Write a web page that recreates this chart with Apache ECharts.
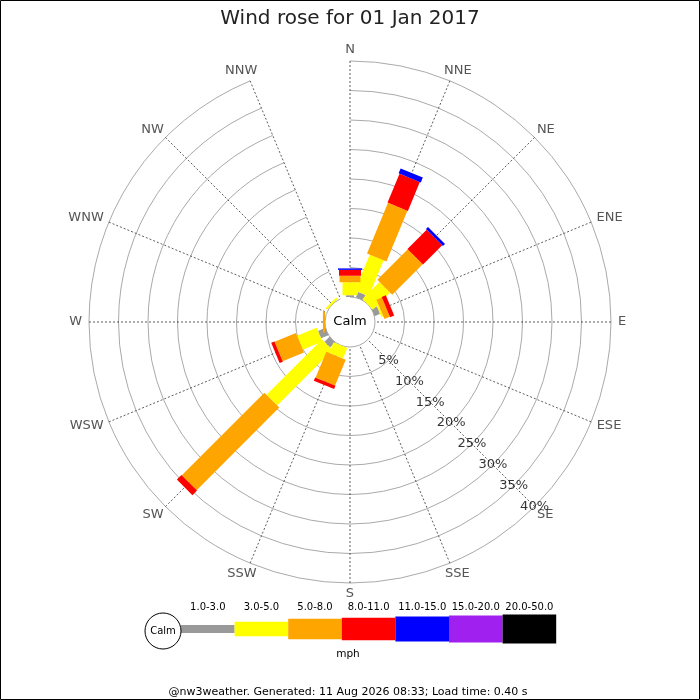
<!DOCTYPE html>
<html>
<head>
<meta charset="utf-8">
<script src="https://cdn.jsdelivr.net/npm/echarts@6/dist/echarts.min.js"></script>
<style>
html,body{margin:0;padding:0;background:#fff;}
#chart{width:700px;height:700px;}
</style>
</head>
<body>
<div id="chart"></div>
<script>
// ---- Data ----
const directions = ['N','NNE','NE','ENE','E','ESE','SE','SSE','S','SSW','SW','WSW','W','WNW','NW','NNW'];
const speedBins = ['1.0-3.0','3.0-5.0','5.0-8.0','8.0-11.0','11.0-15.0','15.0-20.0','20.0-50.0'];
const speedColors = ['#999999','#ffff00','#ffa500','#ff0000','#0000ff','#a020f0','#000000'];
const ringTicks = [5,10,15,20,25,30,35,40];
// percent frequency per direction (N ... NNW) for each speed bin
const spd1to3   = [0.3, 1.0, 0.0, 1.0, 0, 0, 0, 0, 0, 0.0, 1.2, 1.35, 0.0, 0, 0.0, 0];
const spd3to5   = [2.2, 6.6, 4.1, 0.35, 0, 0, 0, 0, 0, 1.95, 13.3, 3.6, 0.0, 0, 0.35, 0];
const spd5to8   = [1.1, 9.3, 7.3, 1.0, 0, 0, 0, 0, 0, 4.75, 19.8, 3.9, 0.35, 0, 0.0, 0];
const spd8to11  = [1.0, 5.3, 4.6, 0.75, 0, 0, 0, 0, 0, 0.6, 1.1, 0.6, 0.0, 0, 0.0, 0];
const spd11to15 = [0.25, 0.9, 0.5, 0, 0, 0, 0, 0, 0, 0, 0, 0, 0, 0, 0, 0];
const spd15to20 = [0, 0, 0, 0, 0, 0, 0, 0, 0, 0, 0, 0, 0, 0, 0, 0];
const spd20to50 = [0, 0, 0, 0, 0, 0, 0, 0, 0, 0, 0, 0, 0, 0, 0, 0];
const speedSeries = [spd1to3, spd3to5, spd5to8, spd8to11, spd11to15, spd15to20, spd20to50];

// ---- Styles ----
const FONT = 'DejaVu Sans';
const barWidths = [8, 15, 21, 22, 24, 27, 29];
const legendHeights = [8, 14.6, 20.7, 22.7, 25, 27, 29];
const DIR_FONT = 13, DIR_GAP = 7, DIR_VFACTOR = 0.3;

const measureCtx = document.createElement('canvas').getContext('2d');
measureCtx.font = DIR_FONT + 'px "DejaVu Sans"';

// build stacked segments
const cum = directions.map(() => 0);
const series = speedSeries.map((vals, k) => {
  const data = vals.map((v, i) => {
    const start = cum[i];
    cum[i] += v;
    return [i, start, cum[i]];
  });
  const w = barWidths[k], color = speedColors[k];
  return {
    type: 'custom',
    name: speedBins[k],
    coordinateSystem: 'polar',
    encode: { angle: 0, radius: [1, 2] },
    silent: true,
    data: data,
    renderItem: function (params, api) {
      const i = api.value(0), a = api.value(1), b = api.value(2);
      if (!(b > a)) return;
      const p0 = api.coord([a, i]);
      const p1 = api.coord([b, i]);
      const dx = p1[0] - p0[0], dy = p1[1] - p0[1];
      const L = Math.hypot(dx, dy) || 1;
      const nx = -dy / L * w / 2, ny = dx / L * w / 2;
      return {
        type: 'polygon',
        shape: { points: [[p0[0] + nx, p0[1] + ny], [p1[0] + nx, p1[1] + ny], [p1[0] - nx, p1[1] - ny], [p0[0] - nx, p0[1] - ny]] },
        style: { fill: color }
      };
    }
  };
});

// direction labels just outside the outer ring
series.push({
  type: 'custom',
  coordinateSystem: 'polar',
  silent: true,
  encode: { angle: 0, radius: 1 },
  data: directions.map((d, i) => [i, ringTicks[ringTicks.length - 1]]),
  renderItem: function (params, api) {
    const i = api.value(0);
    const p0 = api.coord([0, i]);
    const p1 = api.coord([api.value(1), i]);
    const dx = p1[0] - p0[0], dy = p1[1] - p0[1];
    const L = Math.hypot(dx, dy) || 1;
    const ux = dx / L, uy = dy / L;
    const txt = directions[i];
    const w = measureCtx.measureText(txt).width;
    return {
      type: 'text',
      x: p1[0] + ux * DIR_GAP + ux * w / 2,
      y: p1[1] + uy * DIR_GAP + uy * DIR_FONT * DIR_VFACTOR,
      style: { text: txt, fontSize: DIR_FONT, fontFamily: FONT, fill: '#555', align: 'center', verticalAlign: 'middle' }
    };
  }
});

// radial tick labels along SE spoke
series.push({
  type: 'scatter',
  coordinateSystem: 'polar',
  symbolSize: 0,
  silent: true,
  data: ringTicks.map(t => [t, directions.indexOf('SE')]),
  label: {
    show: true, position: 'inside',
    formatter: p => p.value[0] + '%',
    color: '#000', fontSize: 13, fontFamily: FONT
  },
  z: 5
});

// legend graphics
const legendX0 = 181, legendW = 53.6, legendCY = 629;
const graphics = [
  { type: 'rect', shape: { x: 0.5, y: 0.5, width: 699, height: 699 }, style: { fill: 'none', stroke: '#000', lineWidth: 1 }, silent: true },
  { type: 'text', x: 350, y: 322, style: { text: 'Calm', fontSize: 13, fontFamily: FONT, fill: '#000', align: 'center', verticalAlign: 'middle' }, z: 10 },
  { type: 'circle', shape: { cx: 163, cy: 631, r: 18 }, style: { fill: '#fff', stroke: '#000', lineWidth: 1 }, z: 10 },
  { type: 'text', x: 163, y: 631, style: { text: 'Calm', fontSize: 10, fontFamily: FONT, fill: '#000', align: 'center', verticalAlign: 'middle' }, z: 11 },
  { type: 'text', x: 348, y: 654, style: { text: 'mph', fontSize: 10.5, fontFamily: FONT, fill: '#000', align: 'center', verticalAlign: 'middle' } },
  { type: 'text', x: 348, y: 692, style: { text: '@nw3weather. Generated: 11 Aug 2026 08:33; Load time: 0.40 s', fontSize: 11, fontFamily: FONT, fill: '#000', align: 'center', verticalAlign: 'middle' } }
];
speedBins.forEach((lab, k) => {
  const h = legendHeights[k];
  graphics.push({ type: 'rect', shape: { x: legendX0 + k * legendW, y: legendCY - h / 2, width: legendW, height: h }, style: { fill: speedColors[k] }, z: 5 });
  graphics.push({ type: 'text', x: legendX0 + (k + 0.5) * legendW, y: 607, style: { text: lab, fontSize: 10, fontFamily: FONT, fill: '#000', align: 'center', verticalAlign: 'middle' } });
});

const chart = echarts.init(document.getElementById('chart'), null, { renderer: 'canvas' });
chart.setOption({
  animation: false,
  backgroundColor: '#fff',
  title: {
    text: 'Wind rose for 01 Jan 2017',
    left: 'center', top: 4,
    textStyle: { fontSize: 20, fontWeight: 'normal', color: '#222', fontFamily: FONT }
  },
  polar: { center: [350, 322], radius: [25, 261] },
  angleAxis: {
    type: 'category',
    data: directions,
    boundaryGap: false,
    startAngle: 90,
    clockwise: true,
    axisLine: { show: false },
    axisTick: { show: false },
    axisLabel: { show: false },
    splitLine: { show: true, lineStyle: { color: '#333', width: 0.8, type: [2, 2] } },
    z: 1
  },
  radiusAxis: {
    type: 'value',
    min: 0, max: 40, interval: 5,
    axisLine: { show: false },
    axisTick: { show: false },
    axisLabel: { show: false },
    splitLine: { show: true, lineStyle: { color: '#aaa', width: 1 } },
    z: 1
  },
  graphic: graphics,
  series: series
});
</script>
</body>
</html>
